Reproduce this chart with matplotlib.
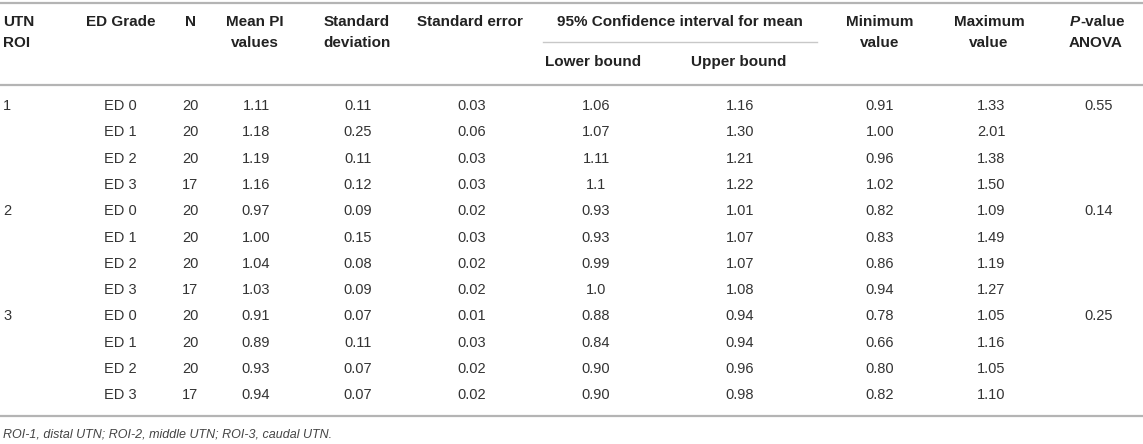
import matplotlib
matplotlib.use("Agg")
import matplotlib.pyplot as plt

# Данные таблицы
roi = ["1", "", "", "", "2", "", "", "", "3", "", "", ""]
ed_grade = ["ED 0", "ED 1", "ED 2", "ED 3"] * 3
n = ["20", "20", "20", "17"] * 3
mean_pi = ["1.11", "1.18", "1.19", "1.16", "0.97", "1.00", "1.04", "1.03",
           "0.91", "0.89", "0.93", "0.94"]
std_dev = ["0.11", "0.25", "0.11", "0.12", "0.09", "0.15", "0.08", "0.09",
           "0.07", "0.11", "0.07", "0.07"]
std_err = ["0.03", "0.06", "0.03", "0.03", "0.02", "0.03", "0.02", "0.02",
           "0.01", "0.03", "0.02", "0.02"]
lower = ["1.06", "1.07", "1.11", "1.1", "0.93", "0.93", "0.99", "1.0",
         "0.88", "0.84", "0.90", "0.90"]
upper = ["1.16", "1.30", "1.21", "1.22", "1.01", "1.07", "1.07", "1.08",
         "0.94", "0.94", "0.96", "0.98"]
minimum = ["0.91", "1.00", "0.96", "1.02", "0.82", "0.83", "0.86", "0.94",
           "0.78", "0.66", "0.80", "0.82"]
maximum = ["1.33", "2.01", "1.38", "1.50", "1.09", "1.49", "1.19", "1.27",
           "1.05", "1.16", "1.05", "1.10"]
p_anova = ["0.55", "", "", "", "0.14", "", "", "", "0.25", "", "", ""]
footnote = "ROI-1, distal UTN; ROI-2, middle UTN; ROI-3, caudal UTN."

plt.rcParams['font.family'] = ['Liberation Sans', 'DejaVu Sans']

W, H = 1143, 444
fig = plt.figure(figsize=(W / 100, H / 100), dpi=100)
ax = fig.add_axes([0, 0, 1, 1])
ax.set_xlim(0, W)
ax.set_ylim(H, 0)
ax.axis("off")

head_kw = dict(fontsize=11, fontweight="bold", color="#222222", va="center")
cell_kw = dict(fontsize=10.5, color="#333333", va="center")
line_color = "#b4b4b4"

# Горизонтальные линии
ax.plot([0, W], [3, 3], color=line_color, lw=1.6)
ax.plot([0, W], [85, 85], color=line_color, lw=1.6)
ax.plot([0, W], [416, 416], color=line_color, lw=1.6)
ax.plot([543, 817], [42, 42], color="#c8c8c8", lw=1.0)

y1, y2, y3 = 22, 43, 62

# Заголовки
ax.text(3, y1, "UTN", ha="left", **head_kw)
ax.text(3, y2, "ROI", ha="left", **head_kw)
ax.text(121, y1, "ED Grade", ha="center", **head_kw)
ax.text(190, y1, "N", ha="center", **head_kw)
ax.text(255, y1, "Mean PI", ha="center", **head_kw)
ax.text(255, y2, "values", ha="center", **head_kw)
ax.text(357, y1, "Standard", ha="center", **head_kw)
ax.text(357, y2, "deviation", ha="center", **head_kw)
ax.text(470, y1, "Standard error", ha="center", **head_kw)
ax.text(680, y1, "95% Confidence interval for mean", ha="center", **head_kw)
ax.text(593, y3, "Lower bound", ha="center", **head_kw)
ax.text(739, y3, "Upper bound", ha="center", **head_kw)
ax.text(880, y1, "Minimum", ha="center", **head_kw)
ax.text(880, y2, "value", ha="center", **head_kw)
ax.text(989, y1, "Maximum", ha="center", **head_kw)
ax.text(989, y2, "value", ha="center", **head_kw)
ax.text(1080, y1, "P", ha="right", style="italic", **head_kw)
ax.text(1080, y1, "-value", ha="left", **head_kw)
ax.text(1096, y2, "ANOVA", ha="center", **head_kw)

# Строки таблицы
columns = [
    (roi, 3, "left"),
    (ed_grade, 120, "center"),
    (n, 190, "center"),
    (mean_pi, 256, "center"),
    (std_dev, 358, "center"),
    (std_err, 472, "center"),
    (lower, 596, "center"),
    (upper, 740, "center"),
    (minimum, 880, "center"),
    (maximum, 991, "center"),
    (p_anova, 1099, "center"),
]
row0, step = 106, 26.3
for values, x, ha in columns:
    for i, v in enumerate(values):
        ax.text(x, row0 + i * step, v, ha=ha, **cell_kw)

ax.text(3, 434, footnote, ha="left", va="center", fontsize=9,
        style="italic", color="#444444")

fig.savefig("out.png", dpi=100)
